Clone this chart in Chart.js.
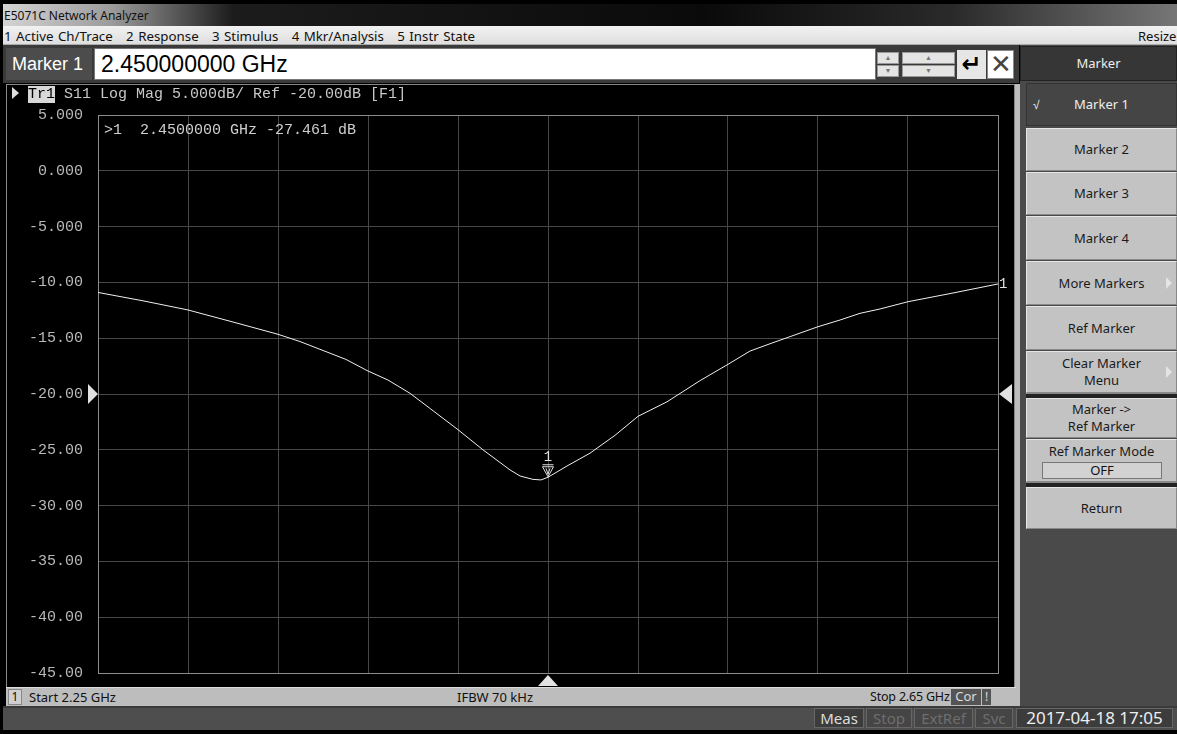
<!DOCTYPE html>
<html>
<head>
<meta charset="utf-8">
<script src="https://cdn.jsdelivr.net/npm/chart.js@4/dist/chart.umd.min.js"></script>
<style>
  body { margin: 0; background: #fff; width: 1177px; height: 734px; overflow: hidden; }
  .abs { position: absolute; box-sizing: border-box; }
  .ui { font-family: "Noto Sans", "DejaVu Sans", sans-serif; font-size: 12px; color: #111; }
  .btn {
    position: absolute; left: 1026px; width: 151px; box-sizing: border-box;
    background: #c3c3c3; border: 1px solid #888; border-top-color: #e6e6e6; border-left-color: #e6e6e6;
    display: flex; align-items: center; justify-content: center; text-align: center;
    font-family: "Noto Sans", sans-serif; font-size: 13px; color: #1a1a1a; line-height: 17px;
  }
  .arrow { position: absolute; right: 4px; top: 50%; margin-top: -6px; width: 0; height: 0;
    border-top: 6px solid transparent; border-bottom: 6px solid transparent; border-left: 6px solid #e4e4e4; }
  .mono { font-family: "Liberation Mono", "DejaVu Sans Mono", monospace; }
  .stat { position: absolute; top: 708px; height: 20px; box-sizing: border-box; border: 1px solid #666;
    font-family: "Noto Sans", sans-serif; font-size: 15px; line-height: 18px; text-align: center; }
  .spin { position: absolute; height: 12px; background: #e4e4e4; border: 1px solid #999; box-sizing: border-box;
    font-size: 7px; line-height: 10px; text-align: center; color: #777; }
</style>
</head>
<body>
<!-- window frame -->
<div class="abs" style="left:0;top:0;width:1177px;height:734px;background:#000;"></div>
<div class="abs" style="left:3px;top:4px;width:1174px;height:22px;background:linear-gradient(90deg,#d4d4d4 0px,#9a9a9a 110px,#1c1c1c 230px,#0a0a0a 700px,#2a2a2a 950px,#777 1177px);"></div>
<div class="abs ui" style="left:4px;top:7px;">E5071C Network Analyzer</div>
<div class="abs" style="left:3px;top:26px;width:1174px;height:19px;background:linear-gradient(#f2f2f2,#dedede);border-bottom:1px solid #aaa;"></div>
<div class="abs ui" style="left:4px;top:27px;font-size:13.3px;word-spacing:1px;">1 Active Ch/Trace&nbsp;&nbsp;&nbsp;2 Response&nbsp;&nbsp;&nbsp;3 Stimulus&nbsp;&nbsp;&nbsp;4 Mkr/Analysis&nbsp;&nbsp;&nbsp;5 Instr State</div>
<div class="abs ui" style="left:1138px;top:27px;font-size:13px;">Resize</div>

<!-- entry bar -->
<div class="abs" style="left:3px;top:45px;width:1016px;height:38px;background:#3a3a3a;"></div>
<div class="abs" style="left:6px;top:48px;width:86px;height:32px;background:#4c4c4c;color:#fff;font-family:'Liberation Sans',sans-serif;font-size:18px;line-height:32px;padding-left:6px;">Marker 1</div>
<div class="abs" style="left:94px;top:48px;width:782px;height:32px;background:#fff;border:1px solid #777;font-family:'Liberation Sans',sans-serif;font-size:23px;line-height:30px;padding-left:6px;color:#000;">2.450000000 GHz</div>
<div class="spin" style="left:877px;top:52px;width:22px;">&#9650;</div>
<div class="spin" style="left:877px;top:65px;width:22px;">&#9660;</div>
<div class="spin" style="left:902px;top:52px;width:53px;">&#9650;</div>
<div class="spin" style="left:902px;top:65px;width:53px;">&#9660;</div>
<div class="abs" style="left:957px;top:50px;width:29px;height:29px;background:#e6e6e6;font-family:'DejaVu Sans';font-size:24px;line-height:28px;text-align:center;color:#000;font-weight:bold;">&#8629;</div>
<div class="abs" style="left:987px;top:50px;width:27px;height:29px;background:#fff;border:1px solid #888;font-family:'DejaVu Sans';font-size:26px;line-height:26px;text-align:center;color:#444;font-weight:200;">&#10005;</div>

<!-- plot area -->
<div class="abs" style="left:6px;top:84px;width:1010px;height:604px;background:#000;border:1px solid #8a8a8a;"></div>
<div class="abs" style="left:1014px;top:84px;width:6px;height:622px;background:#bdbdbd;border-left:1px solid #888;"></div>
<canvas id="chart" class="abs" width="1005" height="585" style="left:8px;top:102px;"></canvas>
<div class="abs mono" style="left:12px;top:86px;font-size:15px;color:#c8c8c8;white-space:pre;line-height:18px;"><span style="display:inline-block;width:0;height:0;border-top:6px solid transparent;border-bottom:6px solid transparent;border-left:7px solid #ddd;vertical-align:-1px;"></span> <span style="background:#d8d8d8;color:#000;">Tr1</span> S11 Log Mag 5.000dB/ Ref -20.00dB [F1]</div>

<!-- channel status bar -->
<div class="abs" style="left:6px;top:687px;width:1010px;height:20px;background:#bdbdbd;border-top:1px solid #ddd;"></div>
<div class="abs ui" style="left:8px;top:689px;width:14px;height:16px;border:1px solid #888;background:#d0d0d0;text-align:center;line-height:14px;">1</div>
<div class="abs ui" style="left:29px;top:688px;font-size:13px;">Start 2.25 GHz</div>
<div class="abs ui" style="left:457px;top:688px;font-size:13px;">IFBW 70 kHz</div>
<div class="abs ui" style="left:870px;top:688px;font-size:12.5px;letter-spacing:-0.2px;">Stop 2.65 GHz</div>
<div class="abs ui" style="left:951px;top:689px;width:30px;height:16px;background:#545454;color:#ddd;text-align:center;font-size:13px;line-height:15px;">Cor</div>
<div class="abs ui" style="left:982px;top:689px;width:9px;height:16px;background:#545454;color:#ddd;text-align:center;font-size:12px;line-height:15px;">!</div>

<!-- instrument status bar -->
<div class="abs" style="left:3px;top:706px;width:1174px;height:24px;background:#4e4e4e;border-top:2px solid #3a3a3a;"></div>
<div class="stat" style="left:814px;width:50px;background:#3c3c3c;color:#ddd;">Meas</div>
<div class="stat" style="left:866px;width:46px;background:#454545;color:#6e6e6e;">Stop</div>
<div class="stat" style="left:914px;width:59px;background:#454545;color:#6e6e6e;">ExtRef</div>
<div class="stat" style="left:975px;width:38px;background:#454545;color:#6e6e6e;">Svc</div>
<div class="stat" style="left:1016px;width:157px;background:#3c3c3c;color:#eee;font-size:17px;">2017-04-18 17:05</div>

<!-- soft key panel -->
<div class="abs" style="left:1020px;top:45px;width:157px;height:661px;background:#4a4a4a;"></div>
<div class="abs" style="left:1020px;top:46px;width:157px;height:35px;background:#363636;border:1px solid #222;color:#eee;font-family:'Noto Sans',sans-serif;font-size:13px;line-height:33px;text-align:center;">Marker</div>
<div class="btn" style="top:83px;height:43px;background:#454545;color:#eee;border-color:#333;">Marker 1<span style="position:absolute;left:6px;top:12px;font-size:12px;">&#8730;</span></div>
<div class="btn" style="top:128px;height:43px;">Marker 2</div>
<div class="btn" style="top:172px;height:43px;">Marker 3</div>
<div class="btn" style="top:216px;height:44px;">Marker 4</div>
<div class="btn" style="top:261px;height:44px;">More Markers<span class="arrow"></span></div>
<div class="btn" style="top:306px;height:44px;">Ref Marker</div>
<div class="btn" style="top:351px;height:42px;">Clear Marker<br>Menu<span class="arrow"></span></div>
<div class="abs" style="left:1026px;top:393px;width:151px;height:5px;background:#222;border-top:1px solid #888;"></div>
<div class="btn" style="top:398px;height:40px;">Marker -&gt;<br>Ref Marker</div>
<div class="btn" style="top:439px;height:43px;align-items:flex-start;padding-top:3px;">Ref Marker Mode</div>
<div class="abs" style="left:1042px;top:462px;width:120px;height:17px;background:#d2d2d2;border:1px solid #777;font-family:'Noto Sans',sans-serif;font-size:13px;line-height:15px;text-align:center;color:#111;">OFF</div>
<div class="abs" style="left:1026px;top:482px;width:151px;height:5px;background:#222;border-top:1px solid #888;"></div>
<div class="btn" style="top:487px;height:42px;">Return</div>

<script>
//Sweep points (GHz / dB)
let freqs = [
  2.25, 2.27, 2.29, 2.31, 2.33, 2.3398, 2.35, 2.3602, 2.3696, 2.3789,
  2.3887, 2.3976, 2.41, 2.4211, 2.4331, 2.4376, 2.4433, 2.4469, 2.45,
  2.4589, 2.4687, 2.4798, 2.49, 2.5029, 2.5176, 2.53, 2.5398, 2.55,
  2.5576, 2.57, 2.5798, 2.5887, 2.5976, 2.61, 2.63, 2.65,
];
let s11 = [
  -10.9, -11.65, -12.47, -13.55, -14.65, -15.3, -16.1, -16.9, -17.9, -18.75,
  -19.94, -21.3, -23.2, -25.0, -26.8, -27.35, -27.65, -27.7, -27.46,
  -26.4, -25.3, -23.7, -22.0, -20.7, -18.8, -17.34, -16.15, -15.4,
  -14.86, -13.97, -13.37, -12.77, -12.38, -11.73, -10.95, -10.14,
];

let xGrid = [2.25, 2.29, 2.33, 2.37, 2.41, 2.45, 2.49, 2.53, 2.57, 2.61, 2.65];
let yTicks = [5, 0, -5, -10, -15, -20, -25, -30, -35, -40, -45];
let yTickLabels = [
  "5.000", "0.000", "-5.000", "-10.00", "-15.00", "-20.00",
  "-25.00", "-30.00", "-35.00", "-40.00", "-45.00",
];

let refLevel = -20;
let markerFreq = 2.45;
let markerDb = -27.461;
let markerText = ">1  2.4500000 GHz -27.461 dB";

const MONO = '"Liberation Mono", "DejaVu Sans Mono", monospace';

//Markers, ref arrows and readout on top of the trace
let overlay = {
  id: "overlay",
  afterDatasetsDraw(chart) {
    let ctx = chart.ctx;
    let x = chart.scales.x;
    let y = chart.scales.y;
    let area = chart.chartArea;
    ctx.save();
    ctx.fillStyle = "#e2e2e2";

    //ref level arrows
    let ry = y.getPixelForValue(refLevel);
    ctx.beginPath();
    ctx.moveTo(area.left - 10, ry - 10);
    ctx.lineTo(area.left, ry);
    ctx.lineTo(area.left - 10, ry + 10);
    ctx.fill();
    ctx.beginPath();
    ctx.moveTo(area.right + 14, ry - 10);
    ctx.lineTo(area.right + 1, ry);
    ctx.lineTo(area.right + 14, ry + 10);
    ctx.fill();

    //active marker position on the bottom
    let mx = x.getPixelForValue(markerFreq);
    ctx.beginPath();
    ctx.moveTo(mx - 10, area.bottom + 13);
    ctx.lineTo(mx, area.bottom + 2);
    ctx.lineTo(mx + 10, area.bottom + 13);
    ctx.fill();

    //marker symbol on the trace
    let my = y.getPixelForValue(markerDb);
    ctx.strokeStyle = "#e2e2e2";
    ctx.lineWidth = 1;
    ctx.beginPath();
    ctx.moveTo(mx - 5.5, my - 10.5);
    ctx.lineTo(mx + 5.5, my - 10.5);
    ctx.lineTo(mx, my - 0.5);
    ctx.closePath();
    ctx.stroke();
    ctx.beginPath();
    ctx.moveTo(mx - 5.5, my - 12.5);
    ctx.lineTo(mx + 5.5, my - 12.5);
    ctx.moveTo(mx - 2, my - 9);
    ctx.lineTo(mx, my - 3);
    ctx.lineTo(mx + 2, my - 9);
    ctx.stroke();
    ctx.font = "14px " + MONO;
    ctx.textAlign = "center";
    ctx.textBaseline = "bottom";
    ctx.fillText("1", mx, my - 13);

    //trace number at the right end
    let ey = y.getPixelForValue(s11[s11.length - 1]);
    ctx.textAlign = "left";
    ctx.textBaseline = "middle";
    ctx.fillText("1", area.right + 1, ey);

    //marker readout
    ctx.fillStyle = "#cfcfcf";
    ctx.font = "15px " + MONO;
    ctx.textBaseline = "middle";
    ctx.fillText(markerText, area.left + 6, area.top + 15);
    ctx.restore();
  },
};

let chart = new Chart(document.getElementById("chart"), {
  type: "line",
  data: {
    datasets: [
      {
        data: freqs.map((f, i) => ({ x: f, y: s11[i] })),
        borderColor: "#f0f0f0",
        borderWidth: 1,
        pointRadius: 0,
        tension: 0,
        clip: false,
      },
    ],
  },
  options: {
    responsive: false,
    animation: false,
    devicePixelRatio: 1,
    layout: { padding: { top: 13, right: 15, bottom: 14, left: 0 } },
    plugins: { legend: { display: false }, tooltip: { enabled: false } },
    scales: {
      x: {
        type: "linear",
        min: 2.25,
        max: 2.65,
        afterBuildTicks: (scale) => {
          scale.ticks = xGrid.map((v) => ({ value: v }));
        },
        ticks: { display: false },
        grid: {
          drawTicks: false,
          color: (c) =>
            c.tick && (c.tick.value === 2.25 || c.tick.value === 2.65) ? "#8c8c8c" : "#474747",
        },
        border: { color: "#8c8c8c" },
      },
      y: {
        min: -45,
        max: 5,
        afterBuildTicks: (scale) => {
          scale.ticks = yTicks.map((v) => ({ value: v }));
        },
        afterFit: (scale) => {
          scale.width = 90;
          //labels may hang over the plot box, layout padding decides the edges
          scale.paddingTop = 0;
          scale.paddingBottom = 0;
        },
        ticks: {
          padding: 15,
          color: "#b9b9b9",
          font: { family: MONO, size: 15 },
          callback: (v) => yTickLabels[yTicks.indexOf(v)],
        },
        grid: {
          drawTicks: false,
          color: (c) =>
            c.tick && (c.tick.value === 5 || c.tick.value === -45) ? "#8c8c8c" : "#474747",
        },
        border: { color: "#8c8c8c" },
      },
    },
  },
  plugins: [overlay],
});
</script>
</body>
</html>
